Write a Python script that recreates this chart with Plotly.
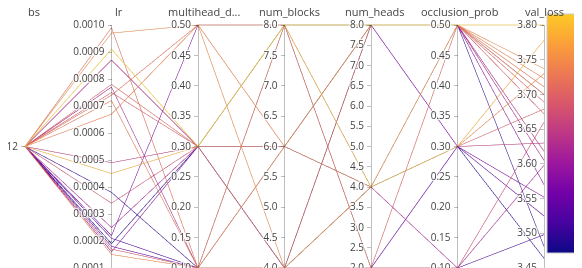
import plotly.graph_objects as go
import plotly.express as px

# ---- data (one entry per trial) ----
bs = [512] * 22
lr = [0.00099, 0.00097, 0.00091, 0.00087, 0.00078, 0.00077, 0.00075, 0.00067,
      0.00049, 0.00045, 0.00034, 0.00038, 0.00025, 0.00022, 0.00019, 0.00018,
      0.00017, 0.00016, 0.00015, 0.00021, 0.00074, 0.00072]
multihead_dropout = [0.1, 0.5, 0.3, 0.3, 0.3, 0.1, 0.3, 0.5,
                     0.3, 0.3, 0.3, 0.1, 0.3, 0.5, 0.3, 0.1,
                     0.1, 0.3, 0.1, 0.1, 0.5, 0.1]
num_blocks = [8, 4, 8, 6, 8, 4, 6, 6,
              4, 8, 4, 6, 8, 8, 6, 4,
              4, 4, 4, 8, 8, 6]
num_heads = [8, 4, 8, 8, 2, 8, 4, 8,
             4, 4, 2, 8, 4, 8, 4, 2,
             8, 8, 4, 2, 8, 4]
occlusion_prob = [0.5, 0.5, 0.5, 0.5, 0.5, 0.5, 0.3, 0.5,
                  0.3, 0.3, 0.1, 0.5, 0.1, 0.3, 0.3, 0.3,
                  0.5, 0.5, 0.3, 0.1, 0.5, 0.5]
val_loss = [3.700, 3.737, 3.800, 3.618, 3.689, 3.605, 3.679, 3.723,
            3.630, 3.778, 3.660, 3.481, 3.598, 3.552, 3.464, 3.525,
            3.672, 3.570, 3.730, 3.498, 3.700, 3.711]

axis_labels = ["bs", "lr", "multihead_d...", "num_blocks", "num_heads", "occlusion_prob", "val_loss"]

lr_ticks = [0.0001, 0.0002, 0.0003, 0.0004, 0.0005, 0.0006, 0.0007, 0.0008, 0.0009, 0.0010]
lr_ticktext = ["0.0001", "0.0002", "0.0003", "0.0004", "0.0005", "0.0006", "0.0007", "0.0008", "0.0009", "0.0010"]
frac_ticks = [0.10, 0.15, 0.20, 0.25, 0.30, 0.35, 0.40, 0.45, 0.50]
frac_ticktext = ["0.10", "0.15", "0.20", "0.25", "0.30", "0.35", "0.40", "0.45", "0.50"]
blocks_ticks = [4.0, 4.5, 5.0, 5.5, 6.0, 6.5, 7.0, 7.5, 8.0]
blocks_ticktext = ["4.0", "4.5", "5.0", "5.5", "6.0", "6.5", "7.0", "7.5", "8.0"]
heads_ticks = [2.0, 2.5, 3.0, 3.5, 4.0, 4.5, 5.0, 5.5, 6.0, 6.5, 7.0, 7.5, 8.0]
heads_ticktext = ["2.0", "2.5", "3.0", "3.5", "4.0", "4.5", "5.0", "5.5", "6.0", "6.5", "7.0", "7.5", "8.0"]
loss_ticks = [3.45, 3.50, 3.55, 3.60, 3.65, 3.70, 3.75, 3.80]
loss_ticktext = ["3.45", "3.50", "3.55", "3.60", "3.65", "3.70", "3.75", "3.80"]

# Plasma, ending at its golden stop (as in the reference colour bar)
colorscale = px.colors.sequential.Plasma[:-1]

W, H = 582, 268
L, R, T, B = 17, 35, 15, 6
pw = W - L - R
ph = H - T - B

fig = go.Figure(go.Parcoords(
    line=dict(
        color=val_loss,
        colorscale=colorscale,
        cmin=3.45, cmax=3.80,
        showscale=True,
        colorbar=dict(x=1.0, xanchor="left", xpad=3,
                      y=1 + 9 / ph, yanchor="top",
                      lenmode="pixels", len=239, ypad=0,
                      thickness=33, outlinewidth=1, outlinecolor="#cccccc",
                      title=dict(text="", side="right"),
                      showticklabels=False, ticks=""),
    ),
    dimensions=[
        dict(label="", values=bs, tickvals=[512], ticktext=["512"]),
        dict(label="", values=lr, range=[0.0001, 0.0010],
             tickvals=lr_ticks, ticktext=lr_ticktext),
        dict(label="", values=multihead_dropout, range=[0.1, 0.5],
             tickvals=frac_ticks, ticktext=frac_ticktext),
        dict(label="", values=num_blocks, range=[4, 8],
             tickvals=blocks_ticks, ticktext=blocks_ticktext),
        dict(label="", values=num_heads, range=[2, 8],
             tickvals=heads_ticks, ticktext=heads_ticktext),
        dict(label="", values=occlusion_prob, range=[0.1, 0.5],
             tickvals=frac_ticks, ticktext=frac_ticktext),
        dict(label="", values=val_loss, range=[3.45, 3.80],
             tickvals=loss_ticks, ticktext=loss_ticktext),
    ],
    tickfont=dict(family="Open Sans", size=10, color="#444"),
))

# axis titles above each axis
for i, name in enumerate(axis_labels):
    fig.add_annotation(
        text=name, xref="paper", yref="paper",
        x=(9 + 87 * i) / pw, y=1.0, xanchor="center", yanchor="bottom",
        yshift=2, showarrow=False,
        font=dict(family="Open Sans", size=11, color="#444"),
    )

fig.update_layout(
    width=W, height=H,
    margin=dict(l=L, r=R, t=T, b=B),
    paper_bgcolor="white",
    plot_bgcolor="white",
    font=dict(family="Open Sans"),
)

fig.write_html("out.html")
